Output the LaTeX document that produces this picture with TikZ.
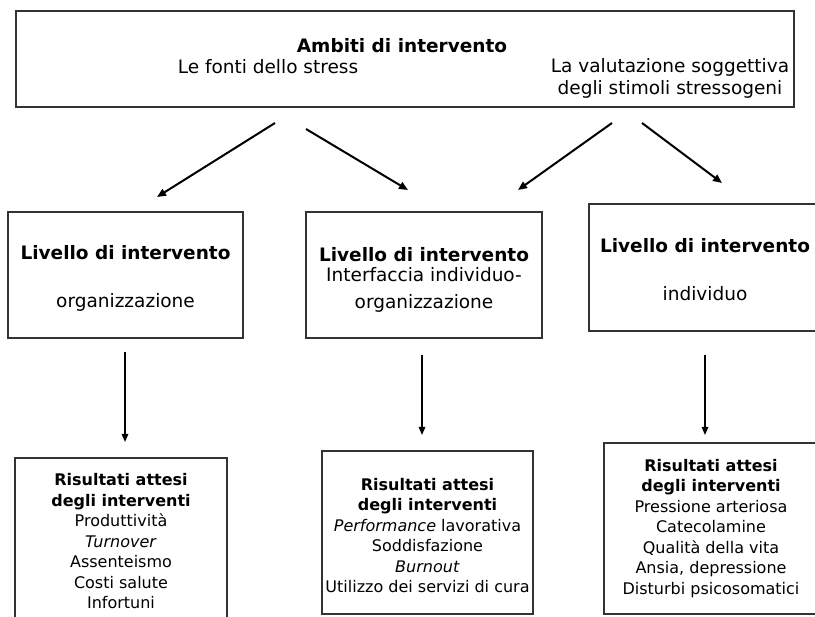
\documentclass[tikz,border=0pt]{standalone}
\usepackage{fontspec}
\setmainfont{DejaVu Sans}
\usetikzlibrary{arrows.meta}
\tikzset{
  frame/.style={draw=black!80, line width=1.3pt},
  conn/.style={line width=2pt, -{Triangle[length=9pt,width=7.5pt]}},
  vconn/.style={line width=1.4pt, -{Triangle[length=8pt,width=6.5pt]}},
  big/.style={font=\fontsize{18.5}{22}\selectfont, inner sep=0pt, align=center},
  small/.style={font=\fontsize{16}{20.5}\selectfont, inner sep=0pt, align=center},
}
\begin{document}
\begin{tikzpicture}[x=1pt,y=-1pt]
\useasboundingbox (0,0) rectangle (815,617);
\clip (0,0) rectangle (815,617);
% top box
\draw[frame] (16,11) rectangle (794,107);
\node[big] (ambiti) at (402,46) {\textbf{Ambiti di intervento}};
\node[big] (fonti) at (268,67) {Le fonti dello stress};
\node[big] (valut) at (670,78) {La valutazione soggettiva\\degli stimoli stressogeni};
% middle boxes
\draw[frame] (8,212) rectangle (243,338);
\node[big] (l1) at (125.5,253) {\textbf{Livello di intervento}};
\node[big] (t1) at (125.5,302) {organizzazione};
\draw[frame] (306,212) rectangle (542,338);
\node[big] (l2) at (424,255) {\textbf{Livello di intervento}};
\node[big, font=\fontsize{18.5}{27}\selectfont] (t2) at (424,289.5) {Interfaccia individuo-\\organizzazione};
\draw[frame] (589,204) rectangle (822,331);
\node[big] (l3) at (705,246) {\textbf{Livello di intervento}};
\node[big] (t3) at (705,294) {individuo};
% bottom boxes
\draw[frame] (15,458) rectangle (227,640);
\node[small] (rA) at (121,541.5) {\textbf{Risultati attesi}\\\textbf{degli interventi}\\Produttività\\\textit{Turnover}\\Assenteismo\\Costi salute\\Infortuni};
\draw[frame] (322,451) rectangle (533,614);
\node[small] (rB) at (427.5,535.5) {\textbf{Risultati attesi}\\\textbf{degli interventi}\\\textit{Performance} lavorativa\\Soddisfazione\\\textit{Burnout}\\Utilizzo dei servizi di cura};
\draw[frame] (604,443) rectangle (818,614);
\node[small] (rC) at (711,528.5) {\textbf{Risultati attesi}\\\textbf{degli interventi}\\Pressione arteriosa\\Catecolamine\\Qualità della vita\\Ansia, depressione\\Disturbi psicosomatici};
% arrow coordinates
\coordinate (a1s) at (275,123); \coordinate (a1e) at (157,197);
\coordinate (a2s) at (306,129); \coordinate (a2e) at (408,190);
\coordinate (a3s) at (612,123); \coordinate (a3e) at (518,190);
\coordinate (a4s) at (642,123); \coordinate (a4e) at (722,183);
\coordinate (v1s) at (125,352); \coordinate (v1e) at (125,442);
\coordinate (v2s) at (422,355); \coordinate (v2e) at (422,435);
\coordinate (v3s) at (705,355); \coordinate (v3e) at (705,435);
\draw[conn] (a1s) -- (a1e);
\draw[conn] (a2s) -- (a2e);
\draw[conn] (a3s) -- (a3e);
\draw[conn] (a4s) -- (a4e);
\draw[vconn] (v1s) -- (v1e);
\draw[vconn] (v2s) -- (v2e);
\draw[vconn] (v3s) -- (v3e);
\end{tikzpicture}
\end{document}
